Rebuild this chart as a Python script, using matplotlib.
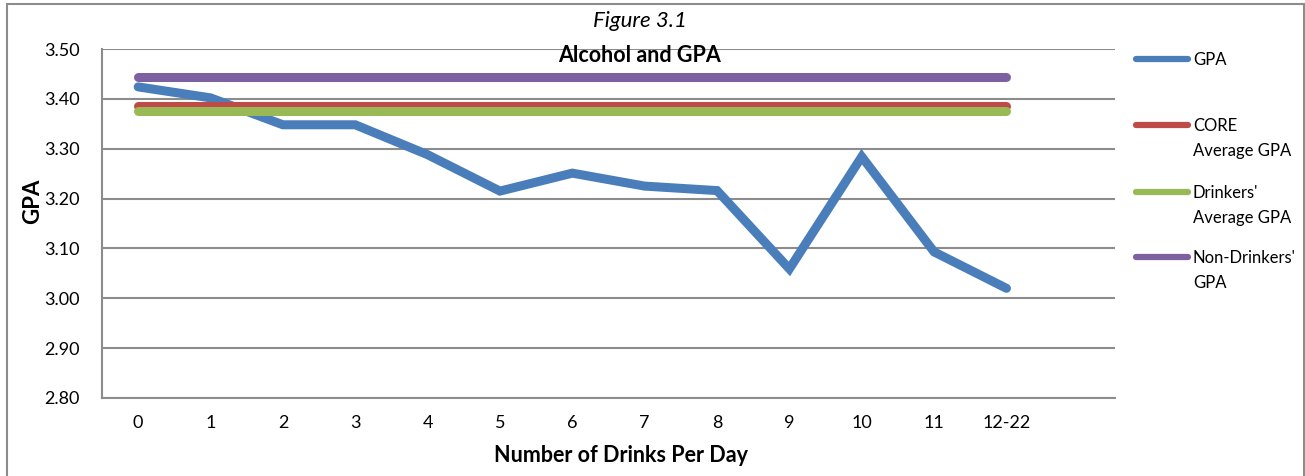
import matplotlib
matplotlib.use('Agg')
import matplotlib.pyplot as plt
from matplotlib.lines import Line2D
from matplotlib.patches import Rectangle

# data
drinks = ['0', '1', '2', '3', '4', '5', '6', '7', '8', '9', '10', '11', '12-22']
gpa = [3.424, 3.402, 3.348, 3.348, 3.288, 3.215, 3.251, 3.225, 3.216, 3.059, 3.284, 3.093, 3.020]
core_avg = 3.386
drinkers_avg = 3.376
non_drinkers = 3.444

series_names = ['GPA', 'CORE\nAverage GPA', "Drinkers'\nAverage GPA", "Non-Drinkers'\nGPA"]
colors = ['#4a7ebb', '#be4b48', '#98b954', '#7d60a0']

plt.rcParams['font.family'] = ['Lato', 'DejaVu Sans']

W, H = 1305, 476
fig = plt.figure(figsize=(W / 100, H / 100), dpi=100)
ax = fig.add_axes([102 / W, 1 - 398 / H, (1115 - 102) / W, (398 - 49) / H])

x = list(range(len(drinks)))
lw = 6.5
ax.plot(x, gpa, color=colors[0], lw=lw, solid_capstyle='round', solid_joinstyle='miter')
ax.plot(x, [core_avg] * len(x), color=colors[1], lw=lw, solid_capstyle='round')
ax.plot(x, [drinkers_avg] * len(x), color=colors[2], lw=lw, solid_capstyle='round')
ax.plot(x, [non_drinkers] * len(x), color=colors[3], lw=lw, solid_capstyle='round')

ax.set_xlim(-0.5, 13.5)
ax.set_ylim(2.80, 3.50)
ax.set_yticks([2.8 + 0.1 * i for i in range(8)])
ax.set_yticklabels(['%.2f' % (2.8 + 0.1 * i) for i in range(8)])
ax.set_xticks(x)
ax.set_xticklabels(drinks)
ax.tick_params(axis='both', length=0, labelsize=13)
ax.tick_params(axis='y', pad=16)
ax.tick_params(axis='x', pad=12)
ax.yaxis.grid(True, color='#8c8c8c', lw=1.5)
ax.set_axisbelow(True)
for s in ['top', 'right']:
    ax.spines[s].set_visible(False)
for s in ['left', 'bottom']:
    ax.spines[s].set_color('#8c8c8c')
    ax.spines[s].set_linewidth(1.5)

ax.set_xlabel('Number of Drinks Per Day', fontsize=15.5, fontweight='bold')
ax.xaxis.set_label_coords(0.512, -0.135)
ax.set_ylabel('GPA', fontsize=16, fontweight='bold')
ax.yaxis.set_label_coords(-0.058, 0.565)

fig.text(640 / W, 1 - 21 / H, 'Figure 3.1', fontsize=16, style='italic', ha='center', va='center')
fig.text(640 / W, 1 - 55 / H, 'Alcohol and GPA', fontsize=15.5, fontweight='bold', ha='center', va='center')

# legend drawn by hand
leg_y = [59, 125, 192, 257]
for name, c, y in zip(series_names, colors, leg_y):
    fig.add_artist(Line2D([1136 / W, 1188 / W], [1 - y / H, 1 - y / H], color=c, lw=4.5,
                          solid_capstyle='round', transform=fig.transFigure))
    fig.text(1193 / W, 1 - (y - 7) / H, name, fontsize=12, va='top', ha='left', linespacing=1.7)

# outer border
fig.add_artist(Rectangle((7 / W, -2 / H), (W - 8) / W, (H - 2) / H, fill=False,
                         edgecolor='#8c8c8c', lw=1.5, transform=fig.transFigure))

fig.savefig('out.png', dpi=100)
